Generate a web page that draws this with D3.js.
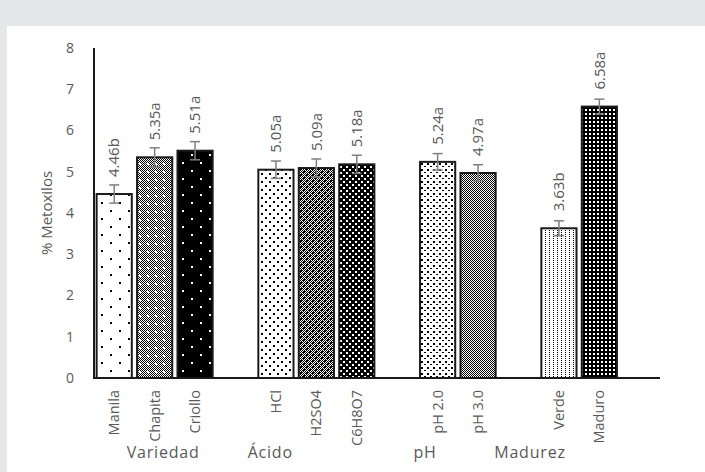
<!DOCTYPE html>
<html>
<head>
<meta charset="utf-8">
<script src="https://cdn.jsdelivr.net/npm/d3@7"></script>
<style>
  body { margin: 0; background: #e6e7e9; }
  svg { display: block; }
  text { font-family: "Open Sans", sans-serif; fill: #595959; }
</style>
</head>
<body>
<svg width="705" height="472"></svg>
<script>
// chart data
var categories = ["Manila", "Chapita", "Criollo", "HCl", "H2SO4", "C6H8O7", "pH 2.0", "pH 3.0", "Verde", "Maduro"];
var values = [4.46, 5.35, 5.51, 5.05, 5.09, 5.18, 5.24, 4.97, 3.63, 6.58];
var letters = ["b", "a", "a", "a", "a", "a", "a", "a", "b", "a"];
var errors = [0.22, 0.23, 0.22, 0.21, 0.22, 0.22, 0.2, 0.2, 0.18, 0.18];
// slot of each bar on the category axis (blank slots split the groups)
var slots = [0, 1, 2, 4, 5, 6, 8, 9, 11, 12];
var groups = ["Variedad", "Ácido", "pH", "Madurez"];
var yTicks = [0, 1, 2, 3, 4, 5, 6, 7, 8];

var svg = d3.select("svg");

// white panel over the grey page
svg.append("rect").attr("x", 7).attr("y", 26).attr("width", 698).attr("height", 446).attr("fill", "#fff");

var x = d3.scaleBand().domain(d3.range(14)).range([94, 660]).paddingInner(0.13).paddingOuter(0.065);
var y = d3.scaleLinear().domain([0, 8]).range([378, 48]);

// fill patterns, one per bar
var defs = svg.append("defs");
function pattern(id, w, h, bg, fg, dots, checker) {
  var p = defs.append("pattern").attr("id", id).attr("patternUnits", "userSpaceOnUse")
    .attr("width", w).attr("height", h);
  p.append("rect").attr("width", w).attr("height", h).attr("fill", bg);
  if (checker) {
    for (var i = 0; i < w; i++)
      for (var j = 0; j < h; j++)
        if ((i + j) % 2 == 0) p.append("rect").attr("x", i).attr("y", j).attr("width", 1).attr("height", 1).attr("fill", checker);
  }
  dots.forEach(function(d) {
    p.append("rect").attr("x", d[0]).attr("y", d[1]).attr("width", d[2]).attr("height", d[3]).attr("fill", fg);
  });
}
pattern("p0", 18, 16, "#fff", "#000", [[2, 2, 2, 2], [11, 10, 2, 2]]);
pattern("p1", 8, 8, "#fff", "#fff", [[3, 3, 2, 2]], "#000");
pattern("p2", 18, 16, "#000", "#fff", [[2, 2, 2, 2], [11, 10, 2, 2]]);
pattern("p3", 8, 8, "#fff", "#000", [[1, 1, 2, 2], [5, 5, 2, 2]]);
pattern("p4", 6, 6, "#fff", "#000", [[0, 0, 2, 2], [3, 3, 2, 2]], "#000");
pattern("p5", 6, 6, "#000", "#fff", [[1, 1, 2, 2], [4, 4, 2, 2]]);
pattern("p6", 6, 6, "#fff", "#000", [[1, 1, 2, 2], [4, 4, 2, 1]]);
pattern("p7", 2, 2, "#fff", "#000", [], "#000");
pattern("p8", 4, 2, "#fff", "#000", [[1, 0, 1, 1]]);
pattern("p9", 4, 4, "#000", "#fff", [[1, 1, 2, 2]]);

// bars
svg.append("g").selectAll("rect")
  .data(values)
  .enter().append("rect")
    .attr("x", function(d, i) { return x(slots[i]); })
    .attr("y", function(d) { return y(d); })
    .attr("width", x.bandwidth())
    .attr("height", function(d) { return y(0) - y(d); })
    .attr("fill", function(d, i) { return "url(#p" + i + ")"; })
    .attr("stroke", "#1a1a1a")
    .attr("stroke-width", 2);

// error bars
var err = svg.append("g").attr("stroke", "#7f7f7f").attr("stroke-width", 1.5);
values.forEach(function(v, i) {
  var cx = x(slots[i]) + x.bandwidth() / 2;
  err.append("line").attr("x1", cx).attr("x2", cx).attr("y1", y(v + errors[i])).attr("y2", y(v - errors[i]));
  err.append("line").attr("x1", cx - 5).attr("x2", cx + 5).attr("y1", y(v + errors[i])).attr("y2", y(v + errors[i]));
  err.append("line").attr("x1", cx - 5).attr("x2", cx + 5).attr("y1", y(v - errors[i])).attr("y2", y(v - errors[i]));
});

// value labels
svg.append("g").selectAll("text")
  .data(values)
  .enter().append("text")
    .attr("transform", function(d, i) {
      return "translate(" + (x(slots[i]) + x.bandwidth() / 2) + "," + (y(d) - 17) + ") rotate(-90)";
    })
    .attr("dy", "0.35em")
    .attr("font-size", 15)
    .text(function(d, i) { return d.toFixed(2) + letters[i]; });

// axes
svg.append("line").attr("x1", 94).attr("x2", 94).attr("y1", y(8)).attr("y2", y(0))
  .attr("stroke", "#1a1a1a").attr("stroke-width", 2);
svg.append("line").attr("x1", 93).attr("x2", 660).attr("y1", y(0)).attr("y2", y(0))
  .attr("stroke", "#1a1a1a").attr("stroke-width", 2);

svg.append("g").selectAll("text")
  .data(yTicks)
  .enter().append("text")
    .attr("x", 74)
    .attr("y", function(d) { return y(d); })
    .attr("dy", "0.35em")
    .attr("text-anchor", "end")
    .attr("font-size", 14)
    .text(function(d) { return d; });

// category labels
svg.append("g").selectAll("text")
  .data(categories)
  .enter().append("text")
    .attr("transform", function(d, i) {
      return "translate(" + (x(slots[i]) + x.bandwidth() / 2) + ",390) rotate(-90)";
    })
    .attr("dy", "0.35em")
    .attr("text-anchor", "end")
    .attr("font-size", 14.5)
    .text(function(d) { return d; });

// group labels (left edges, in slot units)
var groupStart = [0.81, 3.8, 7.9, 9.9];
svg.append("g").selectAll("text")
  .data(groups)
  .enter().append("text")
    .attr("x", function(d, i) { return 94 + groupStart[i] * x.step(); })
    .attr("y", 458)
    .attr("font-size", 16)
    .attr("letter-spacing", 0.8)
    .text(function(d) { return d; });

// y axis title
svg.append("text")
  .attr("transform", "translate(47," + y(4) + ") rotate(-90)")
  .attr("dy", "0.35em")
  .attr("text-anchor", "middle")
  .attr("font-size", 15)
  .text("% Metoxilos");
</script>
</body>
</html>
